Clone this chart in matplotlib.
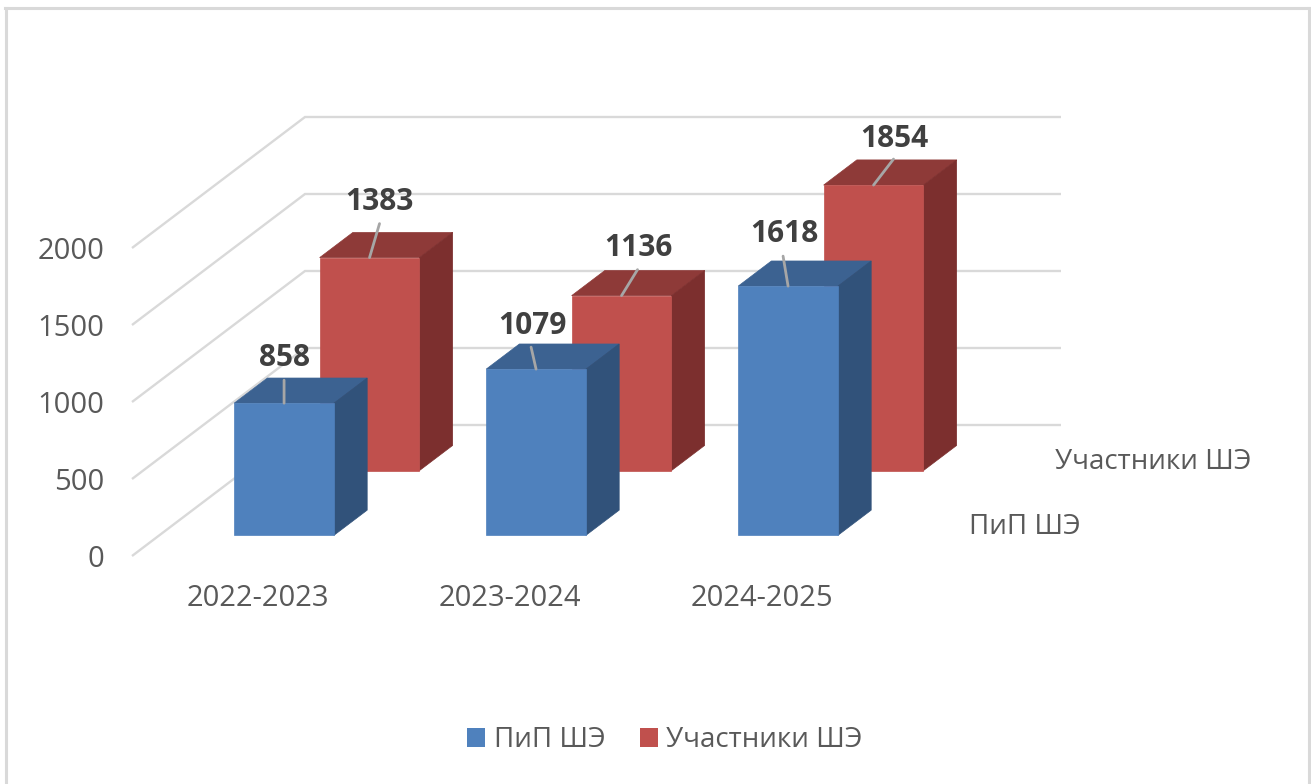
import matplotlib
matplotlib.use("Agg")
import matplotlib.pyplot as plt
from matplotlib.patches import Patch
from matplotlib.lines import Line2D

plt.rcParams['font.family'] = ['Open Sans', 'Noto Sans', 'DejaVu Sans']

categories = ['2022-2023', '2023-2024', '2024-2025']
series_names = ['ПиП ШЭ', 'Участники ШЭ']
pip_values = [858, 1079, 1618]
participants_values = [1383, 1136, 1854]
y_ticks = [0, 500, 1000, 1500, 2000]

W, H = 1311, 784
FRONT_L, FRONT_R, FRONT_B, FRONT_T = 132, 888, 556, 248
PX_X = (FRONT_R - FRONT_L) / 3
PX_Y = (FRONT_B - FRONT_T) / 2000
DEPTH_DX, DEPTH_DY = 173, 131
HALF = 0.198
BAR_NUDGE = -0.005

fig = plt.figure(figsize=(W / 100, H / 100), dpi=100, facecolor='white')
ax = fig.add_axes([FRONT_L / W, 1 - FRONT_B / H,
                   (FRONT_R - FRONT_L) / W, (FRONT_B - FRONT_T) / H])
ax.set_xlim(-0.5, 2.5)
ax.set_ylim(0, 2000)
ax.patch.set_visible(False)
for s in ax.spines.values():
    s.set_visible(False)


def proj(x, v, d):
    return x + d * DEPTH_DX / PX_X, v + d * DEPTH_DY / PX_Y


GRID = '#d9d9d9'
for v in y_ticks:
    pts = [proj(-0.5, v, 0), proj(-0.5, v, 1), proj(2.5, v, 1)]
    ax.plot(*zip(*pts), color=GRID, lw=1.7, clip_on=False, zorder=1,
            solid_capstyle='butt', solid_joinstyle='miter')


def bar3d(i, v, d0, d1, front, top, side, z):
    a, b = i + BAR_NUDGE - HALF, i + BAR_NUDGE + HALF
    ax.fill(*zip(*[proj(a, v, d0), proj(b, v, d0), proj(b, v, d1), proj(a, v, d1)]),
            facecolor=top, edgecolor=top, lw=0.5, clip_on=False, zorder=z)
    ax.fill(*zip(*[proj(b, 0, d0), proj(b, v, d0), proj(b, v, d1), proj(b, 0, d1)]),
            facecolor=side, edgecolor=side, lw=0.5, clip_on=False, zorder=z)
    ax.fill(*zip(*[proj(a, 0, d0), proj(b, 0, d0), proj(b, v, d0), proj(a, v, d0)]),
            facecolor=front, edgecolor=front, lw=0.5, clip_on=False, zorder=z + 0.1)


BLUE = ('#4f81bd', '#3c6291', '#31527a')
RED = ('#c0504d', '#8e3a38', '#7c2f2e')
PIP_D = (0.158, 0.350)
PART_D = (0.652, 0.844)

for i, v in enumerate(participants_values):
    bar3d(i, v, *PART_D, *RED, 2)
for i, v in enumerate(pip_values):
    bar3d(i, v, *PIP_D, *BLUE, 3)

# leader end and label centre, pixel offsets from the top of each bar's front face
pip_leader = [(0, 23), (-5, 22), (-5, 30)]
part_leader = [(10, 34), (16, 26), (20, 26)]
pip_label = [(0, 45), (-4, 43), (-4, 52)]
part_label = [(10, 56), (17, 48), (21, 46)]


def annotate(i, v, d, leader, label):
    x, y = proj(i + BAR_NUDGE, v, d)
    ax.annotate('', xy=(x, y), xycoords='data', annotation_clip=False,
                xytext=(leader[0] * 0.72, leader[1] * 0.72), textcoords='offset points',
                arrowprops=dict(arrowstyle='-', color='#a6a6a6', lw=2.0,
                                shrinkA=0, shrinkB=0), zorder=5)
    ax.annotate(str(v), xy=(x, y), xycoords='data', annotation_clip=False,
                xytext=(label[0] * 0.72, label[1] * 0.72), textcoords='offset points',
                ha='center', va='center', fontsize=21.5, fontweight='bold',
                color='#404040', zorder=6)


for i, v in enumerate(pip_values):
    annotate(i, v, PIP_D[0], pip_leader[i], pip_label[i])
for i, v in enumerate(participants_values):
    annotate(i, v, PART_D[0], part_leader[i], part_label[i])

TXT = '#595959'
ax.set_yticks(y_ticks)
ax.set_yticklabels([str(v) for v in y_ticks], fontsize=21, color=TXT)
ax.set_xticks(range(3))
ax.set_xticklabels(categories, fontsize=21, color=TXT)
ax.tick_params(axis='y', length=0, pad=20)
ax.tick_params(axis='x', length=0, pad=20)

fig.text(969 / W, 1 - 527 / H, series_names[0], fontsize=20, color=TXT, ha='left', va='center')
fig.text(1055 / W, 1 - 462 / H, series_names[1], fontsize=20, color=TXT, ha='left', va='center')

handles = [Patch(facecolor=BLUE[0], label=series_names[0]),
           Patch(facecolor=RED[0], label=series_names[1])]
fig.legend(handles=handles, loc='center', bbox_to_anchor=(665 / W, 1 - 740 / H), ncol=2,
           frameon=False, fontsize=20, labelcolor=TXT, handlelength=0.65, handleheight=0.65,
           handletextpad=0.3, columnspacing=1.25, borderpad=0, borderaxespad=0)

# chart-area border: left, top and right edges only
B = '#d9d9d9'
for xs, ys in [((6.5, 6.5), (7.5, 784)), ((5, 1310), (7.5, 7.5)), ((1308.5, 1308.5), (7.5, 784))]:
    fig.add_artist(Line2D([x / W for x in xs], [1 - y / H for y in ys], color=B, lw=2.2,
                          transform=fig.transFigure))

fig.savefig('out.png', dpi=100)
